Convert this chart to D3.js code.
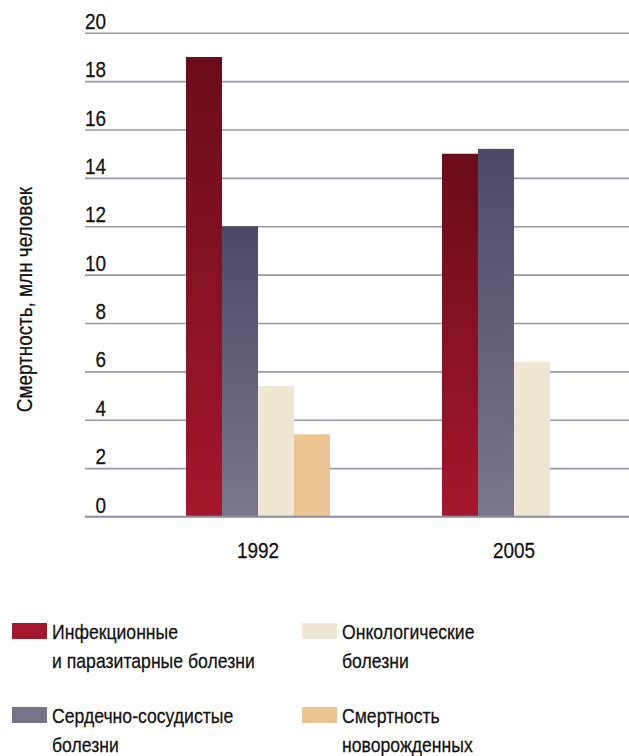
<!DOCTYPE html>
<html>
<head>
<meta charset="utf-8">
<script src="https://cdn.jsdelivr.net/npm/d3@7"></script>
<style>
  html, body { margin: 0; padding: 0; background: #fff; }
  svg { display: block; }
  text { font-family: "Liberation Sans", Arial, sans-serif; fill: #111; stroke: #111; stroke-width: 0.25px; }
</style>
</head>
<body>
<svg id="chart" width="629" height="756"></svg>
<script>
// Deaths by cause, millions of people
const years = ["1992", "2005"];
const series = ["infect", "cardio", "onco", "neonatal"];
const seriesNames = [
  ["Инфекционные", "и паразитарные болезни"],
  ["Сердечно-сосудистые", "болезни"],
  ["Онкологические", "болезни"],
  ["Смертность", "новорожденных"]
];
const values1992 = [19.0, 12.0, 5.4, 3.4];
const values2005 = [15.0, 15.2, 6.4, 0];
const yTicks = [0, 2, 4, 6, 8, 10, 12, 14, 16, 18, 20];
const yTitle = "Смертность, млн человек";

const valuesByYear = [values1992, values2005];

const svg = d3.select("#chart");
const W = 629;
const NARROW = 0.86; // horizontal squeeze giving a condensed face

const y = d3.scaleLinear().domain([0, 20]).range([516.5, 32.8]);
const x = d3.scaleBand().domain(years).range([186, 586]).paddingInner(0.4375).paddingOuter(0);
const xs = d3.scaleBand().domain(series).range([0, x.bandwidth()]).padding(0);

// gradients for the two dark series
const defs = svg.append("defs");
const grads = [
  { id: "g-infect", top: "#690c1a", bottom: "#a4172d" },
  { id: "g-cardio", top: "#4d4866", bottom: "#7a768b" }
];
grads.forEach(g => {
  const lg = defs.append("linearGradient").attr("id", g.id)
    .attr("x1", 0).attr("y1", 0).attr("x2", 0).attr("y2", 1);
  lg.append("stop").attr("offset", 0).attr("stop-color", g.top);
  lg.append("stop").attr("offset", 1).attr("stop-color", g.bottom);
});
const fills = {
  infect: "url(#g-infect)",
  cardio: "url(#g-cardio)",
  onco: "#ede7d3",
  neonatal: "#ebc494"
};
const swatch = {
  infect: "#a3182d",
  cardio: "#777489",
  onco: "#ede8d5",
  neonatal: "#ebc494"
};

// horizontal gridlines with labels
const yAxis = d3.axisLeft(y).tickValues(yTicks).tickSize(-(W - 85)).tickFormat(d3.format("d"));
const gAxis = svg.append("g").attr("transform", "translate(85,0)").call(yAxis);
gAxis.attr("font-family", null).attr("font-size", null);
gAxis.select(".domain").remove();
gAxis.selectAll(".tick line").attr("stroke", "#9a97ac").attr("stroke-width", 1.6);
gAxis.selectAll(".tick text")
  .attr("x", 0).attr("y", 0).attr("dy", null)
  .attr("transform", `translate(21,-4.5) scale(${NARROW},1)`)
  .attr("text-anchor", "end")
  .attr("fill", null)
  .style("font-size", "22px");

// bars
const groups = svg.append("g").selectAll("g").data(years).join("g")
  .attr("transform", d => `translate(${x(d)},0)`);
groups.selectAll("rect")
  .data((d, i) => series.map((s, j) => ({ s, v: valuesByYear[i][j] })).filter(e => e.v > 0))
  .join("rect")
  .attr("x", d => xs(d.s))
  .attr("width", xs.bandwidth())
  .attr("y", d => y(d.v))
  .attr("height", d => y(0) - y(d.v))
  .attr("fill", d => fills[d.s]);

// baseline above bars
svg.append("line").attr("x1", 85).attr("x2", W).attr("y1", y(0)).attr("y2", y(0))
  .attr("stroke", "#8e8ba2").attr("stroke-width", 1.6);

// year labels
svg.append("g").selectAll("text").data(years).join("text")
  .attr("transform", d => `translate(${x(d) + x.bandwidth() / 2},558) scale(${NARROW},1)`)
  .attr("text-anchor", "middle")
  .style("font-size", "22px")
  .text(d => d);

// y title
svg.append("text")
  .attr("transform", `translate(32,${(y(0) + y(20)) / 2 + 25}) rotate(-90) scale(${NARROW},1)`)
  .attr("text-anchor", "middle")
  .style("font-size", "22px")
  .text(yTitle);

// legend
const legendPos = [[12, 623], [12, 707], [302, 623], [302, 707]];
const leg = svg.append("g").selectAll("g").data(series).join("g")
  .attr("transform", (d, i) => `translate(${legendPos[i][0]},${legendPos[i][1]})`);
leg.append("rect").attr("width", 35).attr("height", 16).attr("fill", d => swatch[d]);
leg.each(function (d, i) {
  const t = d3.select(this).append("text")
    .attr("transform", `translate(40,0) scale(${NARROW},1)`)
    .style("font-size", "20.5px");
  seriesNames[i].forEach((line, k) => {
    t.append("tspan").attr("x", 0).attr("y", 16 + k * 29).text(line);
  });
});
</script>
</body>
</html>
